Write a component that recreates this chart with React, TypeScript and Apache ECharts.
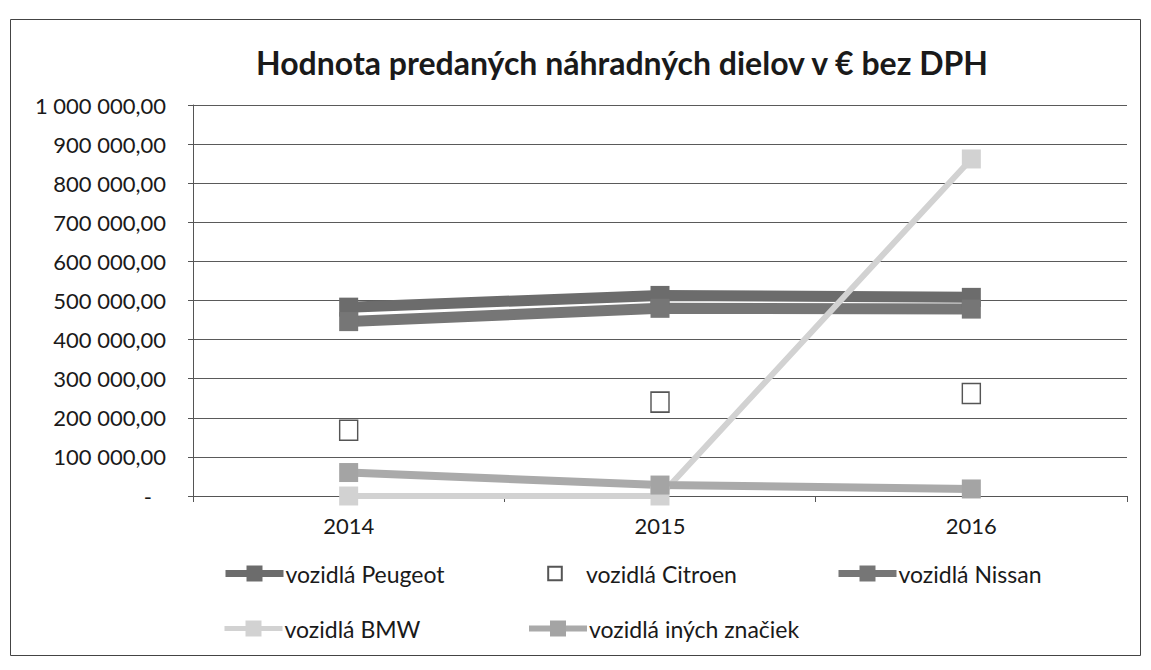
import React, { useEffect, useRef } from "react";
import * as echarts from "echarts";

// ---- data ----
const years = ["2014", "2015", "2016"];
const peugeot = [483000, 513000, 508000];
const citroen = [168000, 240000, 262000];
const nissan = [446000, 480000, 478000];
const bmw = [0, 0, 862000];
const others = [60000, 28000, 18000];

const yMin = 0;
const yMax = 1000000;
const yStep = 100000;

const titleText = "Hodnota predaných náhradných dielov v € bez DPH";
const seriesNames = [
  "vozidlá Peugeot",
  "vozidlá Citroen",
  "vozidlá Nissan",
  "vozidlá BMW",
  "vozidlá iných značiek",
];

const FONT = "Lato, 'Open Sans', sans-serif";

function formatValue(v: number): string {
  if (v === 0) return "{z|-}";
  return String(Math.round(v)).replace(/\B(?=(\d{3})+(?!\d))/g, " ") + ",00";
}

export default function App() {
  const ref = useRef<HTMLDivElement | null>(null);

  useEffect(() => {
    if (!ref.current) return;
    const chart = echarts.init(ref.current, undefined, { renderer: "svg" });

    const legendBase = {
      itemWidth: 58,
      itemHeight: 20,
      itemGap: 0,
      orient: "horizontal",
      textStyle: { fontSize: 23, color: "#1a1a1a", fontFamily: FONT, padding: [0, 0, 0, -3] },
      selectedMode: false,
    };

    const option: any = {
      animation: false,
      backgroundColor: "#ffffff",
      grid: { left: 193, right: 24, top: 105, bottom: 174, containLabel: false },
      graphic: [
        {
          type: "rect",
          shape: { x: 10.5, y: 19.5, width: 1130, height: 636 },
          style: { fill: "none", stroke: "#444", lineWidth: 1 },
          silent: true,
        },
        {
          type: "text",
          x: 622,
          y: 62,
          style: {
            text: titleText,
            fontSize: 32,
            fontWeight: "bold",
            fontFamily: FONT,
            fill: "#1a1a1a",
            textAlign: "center",
            textVerticalAlign: "middle",
          },
          silent: true,
        },
      ],
      legend: [
        { ...legendBase, data: [seriesNames[0]], left: 217, top: 557, lineStyle: { width: 7 } },
        { ...legendBase, data: [seriesNames[1]], left: 521, top: 557, itemHeight: 17 },
        { ...legendBase, data: [seriesNames[2]], left: 830, top: 557, lineStyle: { width: 7 } },
        { ...legendBase, data: [seriesNames[3]], left: 217, top: 612, lineStyle: { width: 5 } },
        { ...legendBase, data: [seriesNames[4]], left: 521, top: 612, lineStyle: { width: 6 } },
      ],
      xAxis: {
        type: "category",
        data: years,
        boundaryGap: true,
        axisLine: { show: true, lineStyle: { color: "#555", width: 1 } },
        axisTick: { show: true, length: 6, lineStyle: { color: "#555" } },
        axisLabel: { fontSize: 22, color: "#1a1a1a", margin: 18, fontFamily: FONT },
        splitLine: { show: false },
      },
      yAxis: {
        type: "value",
        min: yMin,
        max: yMax,
        interval: yStep,
        axisLine: { show: true, lineStyle: { color: "#555", width: 1 } },
        axisTick: { show: true, length: 5, lineStyle: { color: "#555" } },
        axisLabel: {
          fontSize: 22,
          color: "#1a1a1a",
          margin: 27,
          fontFamily: FONT,
          formatter: formatValue,
          rich: { z: { fontSize: 22, color: "#1a1a1a", fontFamily: FONT, padding: [0, 14, 0, 0] } },
        },
        splitLine: { show: true, lineStyle: { color: "#5a5a5a", width: 1 } },
      },
      series: [
        {
          name: seriesNames[0],
          type: "line",
          data: peugeot,
          symbol: "rect",
          symbolSize: 19,
          lineStyle: { color: "#6c6c6c", width: 11 },
          itemStyle: { color: "#6c6c6c" },
        },
        {
          name: seriesNames[1],
          type: "line",
          data: citroen,
          symbol: "rect",
          symbolSize: [18, 20],
          lineStyle: { opacity: 0, width: 0 },
          itemStyle: { color: "#ffffff", borderColor: "#555", borderWidth: 1.5 },
        },
        {
          name: seriesNames[2],
          type: "line",
          data: nissan,
          symbol: "rect",
          symbolSize: 19,
          lineStyle: { color: "#767676", width: 11 },
          itemStyle: { color: "#767676" },
        },
        {
          name: seriesNames[3],
          type: "line",
          data: bmw,
          symbol: "rect",
          symbolSize: 19,
          lineStyle: { color: "#d2d2d2", width: 6 },
          itemStyle: { color: "#d2d2d2" },
        },
        {
          name: seriesNames[4],
          type: "line",
          data: others,
          symbol: "rect",
          symbolSize: 19,
          lineStyle: { color: "#aaaaaa", width: 8 },
          itemStyle: { color: "#a4a4a4" },
        },
      ],
    };

    chart.setOption(option);
    return () => {
      chart.dispose();
    };
  }, []);

  return (
    <div
      ref={ref}
      style={{ position: "absolute", left: 0, top: 0, width: 1151, height: 670, background: "#fff" }}
    />
  );
}
